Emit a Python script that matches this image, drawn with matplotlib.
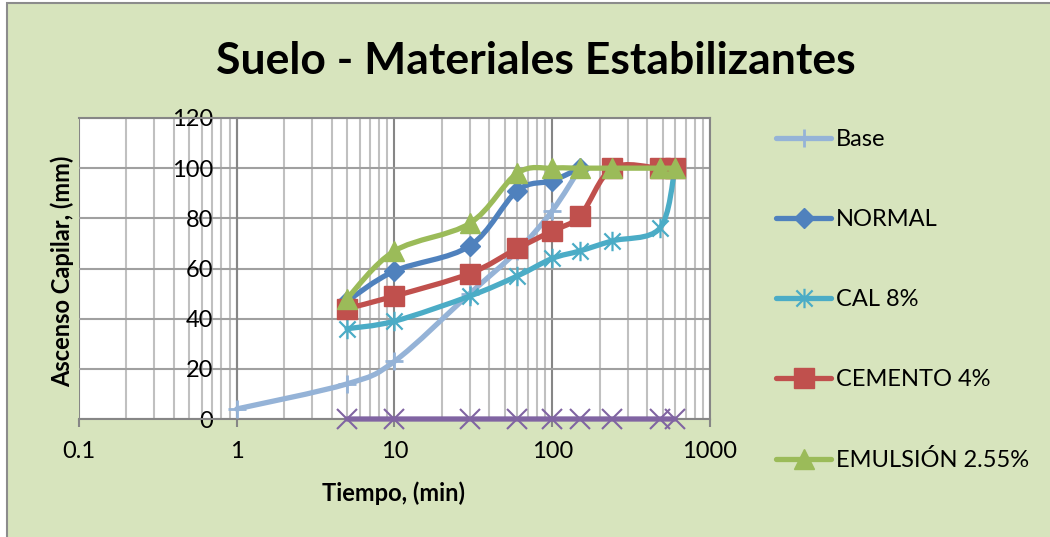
import numpy as np
import matplotlib
matplotlib.use('Agg')
import matplotlib.pyplot as plt
from matplotlib.path import Path
from matplotlib.patches import PathPatch, Rectangle
from matplotlib.lines import Line2D
from matplotlib.ticker import FixedLocator, FixedFormatter, LogLocator, NullFormatter

plt.rcParams['font.family'] = ['Lato', 'DejaVu Sans']

# tiempo (min) y ascenso capilar (mm) por mezcla
base_t = [1, 5, 10, 30, 60, 100, 150]
base_h = [4, 14, 23, 50, 67, 83, 100]

normal_t = [5, 10, 30, 60, 100, 150]
normal_h = [47, 59, 69, 91, 95, 100]

cal_t = [5, 10, 30, 60, 100, 150, 240, 480, 600]
cal_h = [36, 39, 49, 57, 64, 67, 71, 76, 100]

cemento_t = [5, 10, 30, 60, 100, 150, 240, 480, 600]
cemento_h = [44, 49, 58, 68, 75, 81, 100, 100, 100]

emulsion_t = [5, 10, 30, 60, 100, 150, 240, 480, 600]
emulsion_h = [48, 67, 78, 98, 100, 100, 100, 100, 100]

serie6_t = [5, 10, 30, 60, 100, 150, 240, 480, 600]
serie6_h = [0, 0, 0, 0, 0, 0, 0, 0, 0]

labels = ['Base', 'NORMAL', 'CAL 8%', 'CEMENTO 4%', 'EMULSIÓN 2.55%']
x_ticks = [0.1, 1, 10, 100, 1000]
x_tick_labels = ['0.1', '1', '10', '100', '1000']
y_ticks = [0, 20, 40, 60, 80, 100, 120]

# estrella tipo excel: aspa + barra vertical
star = Path([(-1, -1), (1, 1), (-1, 1), (1, -1), (0, -1.2), (0, 1.2)],
            [Path.MOVETO, Path.LINETO] * 3)


def smooth_path(t, h):
    # linea suavizada (bezier catmull-rom) en espacio log10(x)
    pts = np.column_stack([np.log10(t), np.asarray(h, float)])
    n = len(pts)
    verts = [pts[0]]
    codes = [Path.MOVETO]
    for i in range(n - 1):
        p0 = pts[i - 1] if i > 0 else pts[i]
        p1, p2 = pts[i], pts[i + 1]
        p3 = pts[i + 2] if i + 2 < n else pts[i + 1]
        verts += [p1 + (p2 - p0) / 6, p2 - (p3 - p1) / 6, p2]
        codes += [Path.CURVE4] * 3
    v = np.array(verts)
    v[:, 0] = 10 ** v[:, 0]
    return Path(v, codes)


W, H = 1050, 537
fig = plt.figure(figsize=(W / 100, H / 100), dpi=100, facecolor='white')
fig.add_artist(Rectangle((7 / W, -0.1), 1.2, 1.1 - 3 / H, transform=fig.transFigure,
                         facecolor='#D7E4BD', edgecolor='#8c8c8c', lw=1.5, zorder=-10))

ax = fig.add_axes([79 / W, 118 / H, 631 / W, 301 / H])
ax.set_facecolor('white')
ax.set_xscale('log')
ax.set_xlim(0.1, 1000)
ax.set_ylim(0, 120)

ax.xaxis.set_major_locator(FixedLocator(x_ticks))
ax.xaxis.set_major_formatter(FixedFormatter(x_tick_labels))
ax.xaxis.set_minor_locator(LogLocator(base=10, subs=range(2, 10)))
ax.xaxis.set_minor_formatter(NullFormatter())
ax.set_yticks(y_ticks)

ax.set_axisbelow(True)
ax.grid(which='major', axis='x', color='#868686', lw=1.5)
ax.grid(which='minor', axis='x', color='#c0c0c0', lw=1.5)
ax.grid(which='major', axis='y', color='#a0a0a0', lw=1.5)

for s in ax.spines.values():
    s.set_color('#868686')
    s.set_linewidth(1.5)
ax.spines['left'].set_position(('data', 1))

ax.tick_params(axis='x', which='major', length=6, width=1.5, color='#868686',
               pad=10, labelsize=17)
ax.tick_params(axis='x', which='minor', length=0)
ax.tick_params(axis='y', length=0, pad=17, labelsize=17)

series = [
    (base_t, base_h, '#95B3D7', dict(marker='+', ms=13, mew=2)),
    (normal_t, normal_h, '#4F81BD', dict(marker='D', ms=10)),
    (cal_t, cal_h, '#4BACC6', dict(marker=star, ms=14, mew=1.6)),
    (cemento_t, cemento_h, '#C0504D', dict(marker='s', ms=14)),
    (emulsion_t, emulsion_h, '#9BBB59', dict(marker='^', ms=14)),
    (serie6_t, serie6_h, '#8064A2', dict(marker='x', ms=15, mew=1.5)),
]

handles = []
for k, (t, h, c, mk) in enumerate(series):
    z = 3 + k
    ax.add_patch(PathPatch(smooth_path(t, h), facecolor='none', edgecolor=c, lw=3.8,
                           capstyle='round', joinstyle='round', zorder=z, clip_on=False))
    ax.plot(t, h, linestyle='none', color=c, mec=c, mfc=c, zorder=z + 0.5,
            clip_on=False, **mk)
    handles.append(Line2D([], [], color=c, lw=3.8, mec=c, mfc=c,
                          solid_capstyle='round', **mk))

fig.legend(handles[:5], labels, loc='upper left',
           bbox_to_anchor=(776 / W, 1 - (139 - 10) / H), frameon=False,
           fontsize=17, handlelength=2.33, handletextpad=0.21, labelspacing=2.5,
           borderpad=0, borderaxespad=0)

fig.text(536 / W, 1 - 61 / H, 'Suelo - Materiales Estabilizantes', fontsize=32,
         fontweight='bold', ha='center', va='center')
fig.text(62 / W, 1 - 271 / H, 'Ascenso Capilar, (mm)', fontsize=17, fontweight='bold',
         rotation=90, ha='center', va='center')
fig.text(393 / W, 1 - 493 / H, 'Tiempo, (min)', fontsize=17, fontweight='bold',
         ha='center', va='center')

fig.savefig('out.png', dpi=100, facecolor='white')
